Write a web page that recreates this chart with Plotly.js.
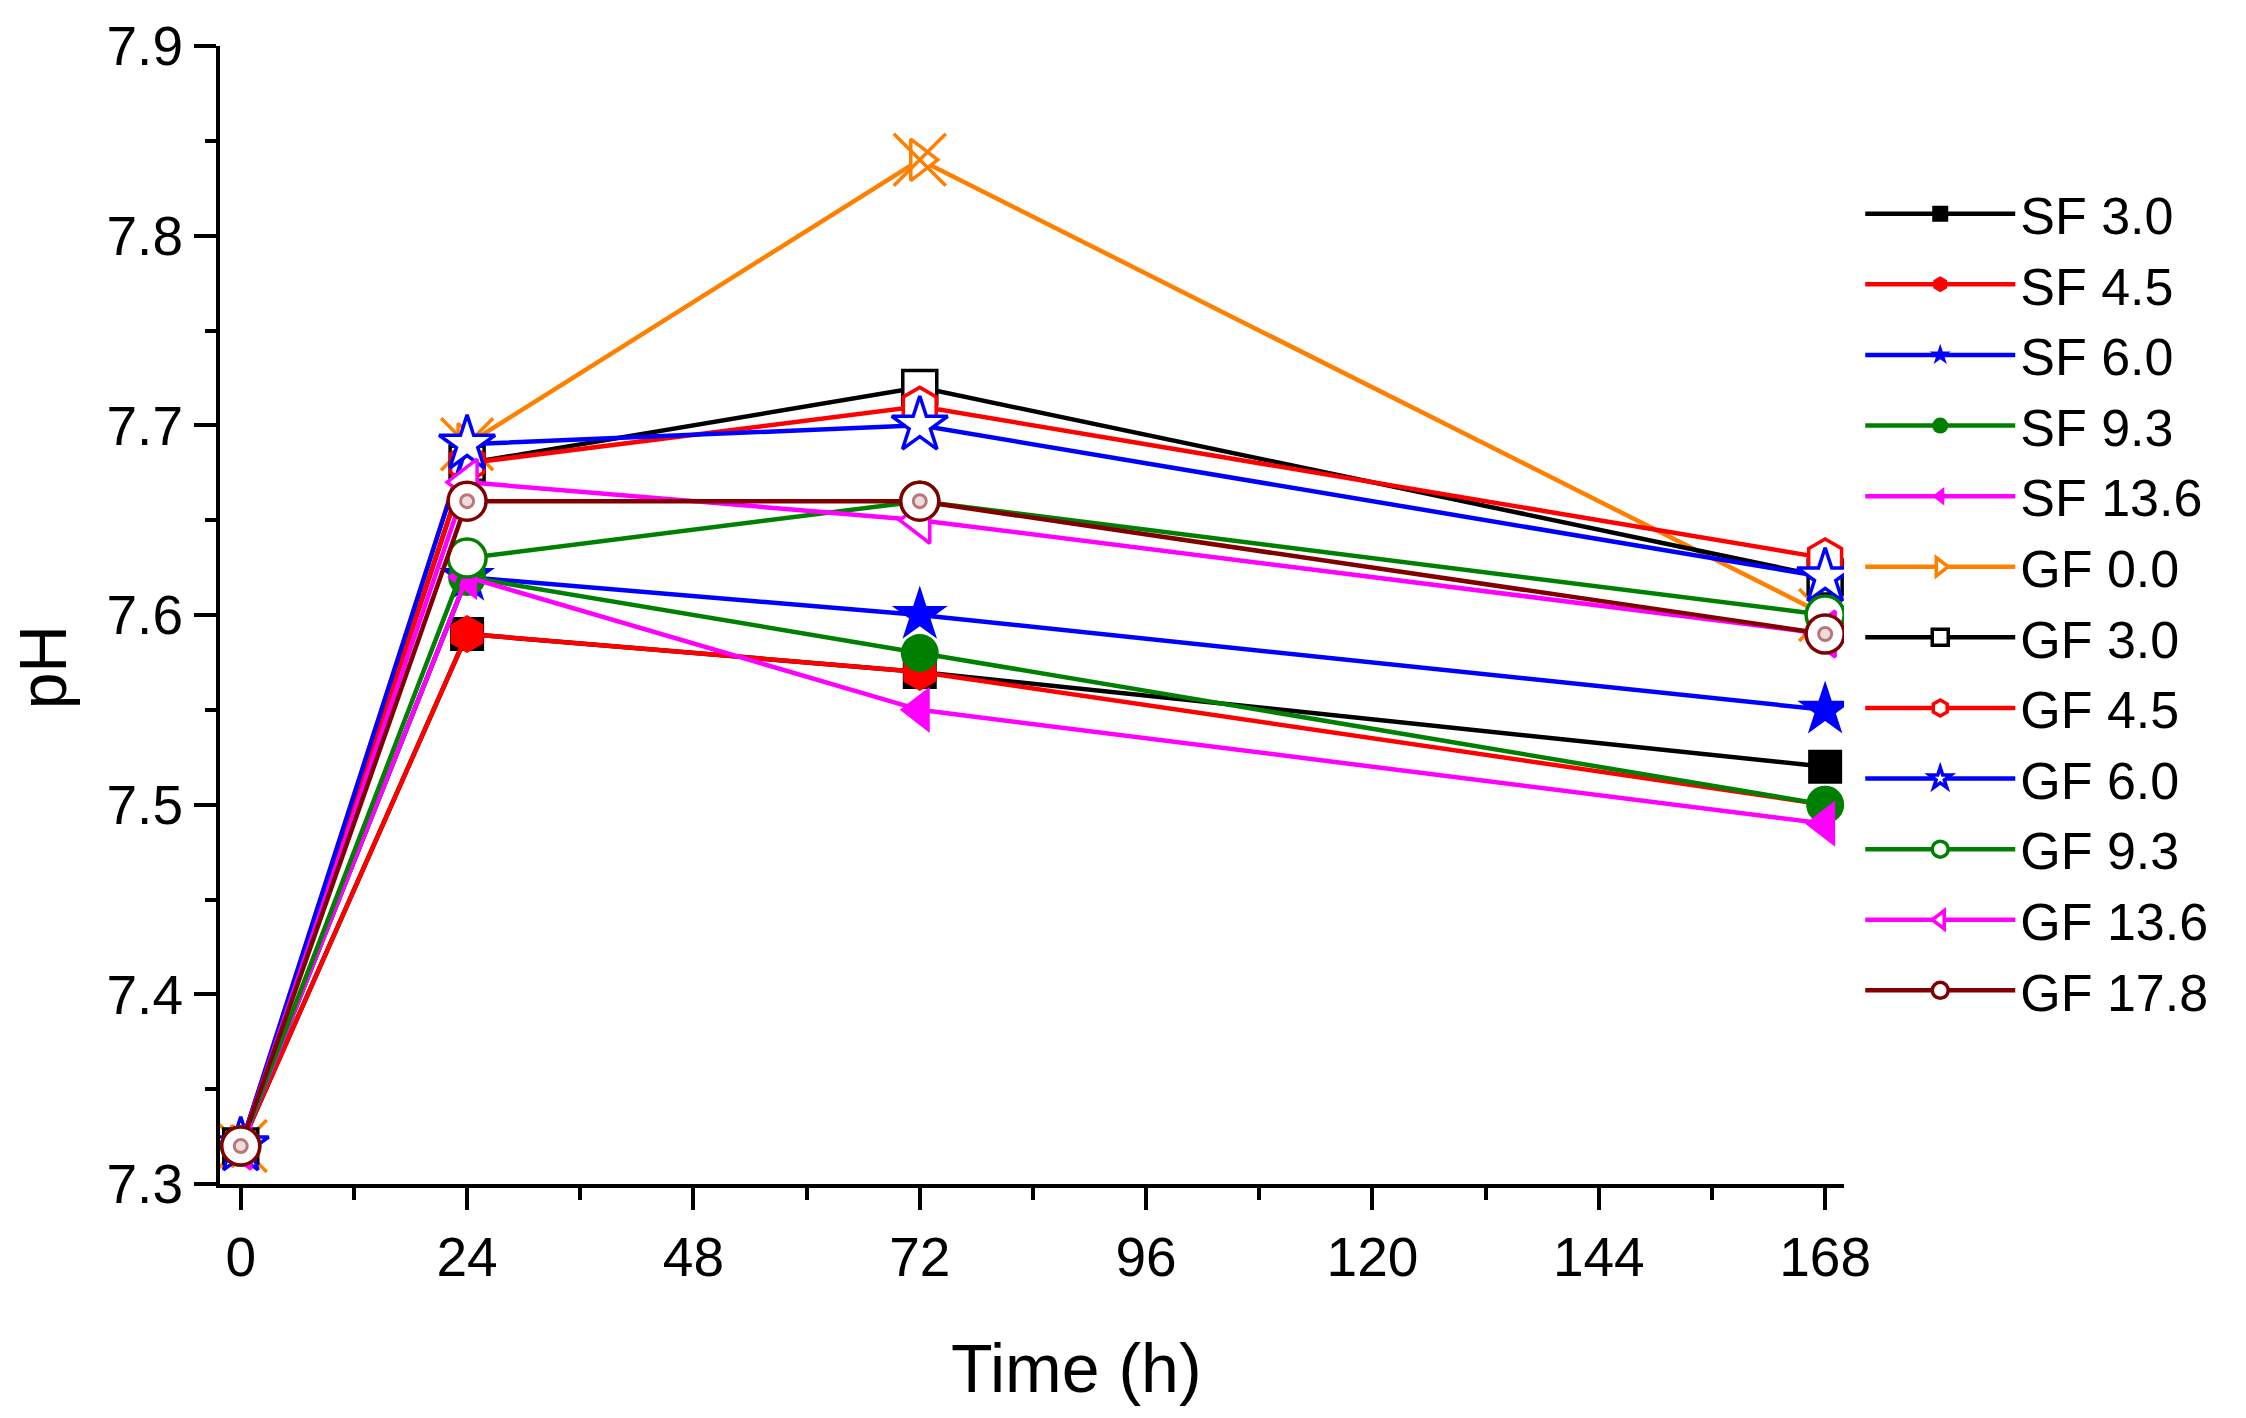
<!DOCTYPE html>
<html>
<head>
<meta charset="utf-8">
<script src="https://cdn.plot.ly/plotly-3.0.1.min.js"></script>
<style>
  html, body { margin: 0; padding: 0; background: #fff; }
  #myPlot { width: 2246px; height: 1418px; }
</style>
</head>
<body>
<div id="myPlot"></div>
<script>
// sampling times (h)
var time_h = [0, 24, 72, 168];

// pH readings per series
var sf_30  = [7.32, 7.59, 7.57, 7.52];
var sf_45  = [7.32, 7.59, 7.57, 7.50];
var sf_60  = [7.32, 7.62, 7.60, 7.55];
var sf_93  = [7.32, 7.62, 7.58, 7.50];
var sf_136 = [7.32, 7.62, 7.55, 7.49];
var gf_00  = [7.32, 7.69, 7.84, 7.60];
var gf_30  = [7.32, 7.68, 7.72, 7.62];
var gf_45  = [7.32, 7.68, 7.71, 7.63];
var gf_60  = [7.32, 7.69, 7.70, 7.62];
var gf_93  = [7.32, 7.63, 7.66, 7.60];
var gf_136 = [7.32, 7.67, 7.65, 7.59];
var gf_178 = [7.32, 7.66, 7.66, 7.59];

var names = ['SF 3.0', 'SF 4.5', 'SF 6.0', 'SF 9.3', 'SF 13.6',
             'GF 0.0', 'GF 3.0', 'GF 4.5', 'GF 6.0', 'GF 9.3', 'GF 13.6', 'GF 17.8'];
var results = [sf_30, sf_45, sf_60, sf_93, sf_136,
               gf_00, gf_30, gf_45, gf_60, gf_93, gf_136, gf_178];
var colors = ['#000000', '#ff0000', '#0000ff', '#008000', '#ff00ff',
              '#ff8000', '#000000', '#ff0000', '#0000ff', '#008000', '#ff00ff', '#800000'];
var symbols = ['square', 'hexagon', 'star', 'circle', 'triangle-left',
               'triangle-right', 'square', 'hexagon', 'star',
               'circle', 'triangle-left', 'circle'];
// SF markers are solid, GF markers hollow (white inside)
var hollow = [false, false, false, false, false,
              true, true, true, true, true, true, true];
var sizes = [34, 38, 42, 38, 40, 36, 34, 38, 42, 38, 40, 38];

var fontName = 'Liberation Sans, Arial, sans-serif';

var traces = [];
for (var i = 0; i < names.length; i++) {
  traces.push({
    x: time_h,
    y: results[i],
    name: names[i],
    type: 'scatter',
    mode: 'lines+markers',
    line: {color: colors[i], width: 4.5},
    marker: {
      symbol: symbols[i],
      size: sizes[i],
      color: hollow[i] ? '#ffffff' : colors[i],
      line: {color: colors[i], width: hollow[i] ? 3.5 : 0}
    }
  });
  // GF 0.0 gets a cross laid over its triangle
  if (names[i] === 'GF 0.0') {
    traces.push({
      x: time_h, y: results[i], type: 'scatter', mode: 'markers',
      showlegend: false, hoverinfo: 'skip',
      marker: {symbol: 'x-thin-open', size: 52, color: colors[i], line: {color: colors[i], width: 3.5}}
    });
  }
}
// shaded dot inside the GF 17.8 circles
traces.push({
  x: time_h, y: gf_178, type: 'scatter', mode: 'markers',
  showlegend: false, hoverinfo: 'skip',
  marker: {symbol: 'circle', size: 13, color: '#f0dcdc', line: {color: '#b87878', width: 3}}
});

var tickFont = {family: fontName, size: 55, color: '#000'};

var layout = {
  width: 2246,
  height: 1418,
  margin: {l: 220, r: 402, t: 46, b: 234},
  paper_bgcolor: '#fff',
  plot_bgcolor: '#fff',
  showlegend: true,
  legend: {
    x: 1.01, xanchor: 'left',
    y: 0.888, yanchor: 'top',
    font: {family: fontName, size: 52, color: '#000'},
    bgcolor: 'rgba(0,0,0,0)',
    itemwidth: 150,
    tracegroupgap: 0
  },
  xaxis: {
    range: [-2.2, 170],
    tickmode: 'array',
    tickvals: [0, 24, 48, 72, 96, 120, 144, 168],
    ticks: 'outside', ticklen: 22, tickwidth: 4, tickcolor: '#000',
    minor: {dtick: 12, tick0: 0, ticks: 'outside', ticklen: 12, tickwidth: 4, tickcolor: '#000', showgrid: false},
    showline: true, linewidth: 4, linecolor: '#000',
    showgrid: false, zeroline: false,
    tickfont: tickFont,
    title: {text: ''}
  },
  yaxis: {
    range: [7.3, 7.9],
    dtick: 0.1, tick0: 7.3,
    tickformat: '.1f',
    ticks: 'outside', ticklen: 22, tickwidth: 4, tickcolor: '#000',
    minor: {dtick: 0.05, tick0: 7.3, ticks: 'outside', ticklen: 11, tickwidth: 4, tickcolor: '#000', showgrid: false},
    showline: true, linewidth: 4, linecolor: '#000',
    showgrid: false, zeroline: false,
    tickfont: tickFont,
    title: {text: ''}
  },
  // axis titles sit off-centre in the original, so they are placed as annotations
  annotations: [
    {
      text: 'Time (h)', xref: 'paper', yref: 'paper',
      x: 0.5277, y: -0.162, xanchor: 'center', yanchor: 'middle',
      showarrow: false, font: {family: fontName, size: 68, color: '#000'}
    },
    {
      text: 'pH', xref: 'paper', yref: 'paper', textangle: -90,
      x: -0.109, y: 0.454, xanchor: 'center', yanchor: 'middle',
      showarrow: false, font: {family: fontName, size: 66, color: '#000'}
    }
  ]
};

Plotly.newPlot('myPlot', traces, layout, {staticPlot: true});
</script>
</body>
</html>
